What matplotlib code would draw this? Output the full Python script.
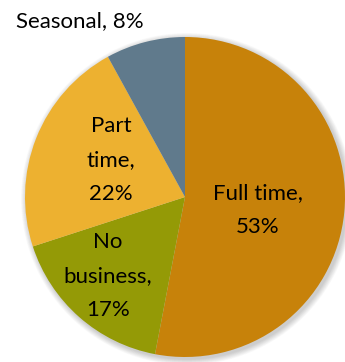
import matplotlib
matplotlib.use("Agg")
import matplotlib.pyplot as plt
from matplotlib.patches import Circle

labels = ["Full time", "No\nbusiness", "Part\ntime", "Seasonal"]
shares = [53, 17, 22, 8]
colors = ["#C7820A", "#949A06", "#EDB130", "#607A8C"]

W, H = 345, 362
cx, cy, r = 185, 165, 160

fig = plt.figure(figsize=(W / 100, H / 100), dpi=100)
ax = fig.add_axes([0, 0, 1, 1])

# soft drop shadow behind the pie
for i in range(10):
    ax.add_patch(Circle((cx + 2, cy - 2), r + 6 - i * 0.6, color="#000000",
                        alpha=0.018, lw=0, zorder=0))

ax.pie(shares, colors=colors, startangle=90, counterclock=False,
       center=(cx, cy), radius=r, wedgeprops={"linewidth": 0},
       frame=True)

fs = 16
pos = [(258, 152), (108, 86), (111, 202), (80, 341)]
for (x, y), lab, v in zip(pos, labels, shares):
    text = f"{lab}, {v}%" if lab == "Seasonal" else f"{lab},\n{v}%"
    ax.text(x, y, text, ha="center", va="center", fontsize=fs,
            family=["Lato", "DejaVu Sans"], linespacing=1.88, zorder=5)

ax.set_xlim(0, W)
ax.set_ylim(0, H)
ax.set_aspect("auto")
ax.axis("off")
fig.savefig("out.png", dpi=100)
